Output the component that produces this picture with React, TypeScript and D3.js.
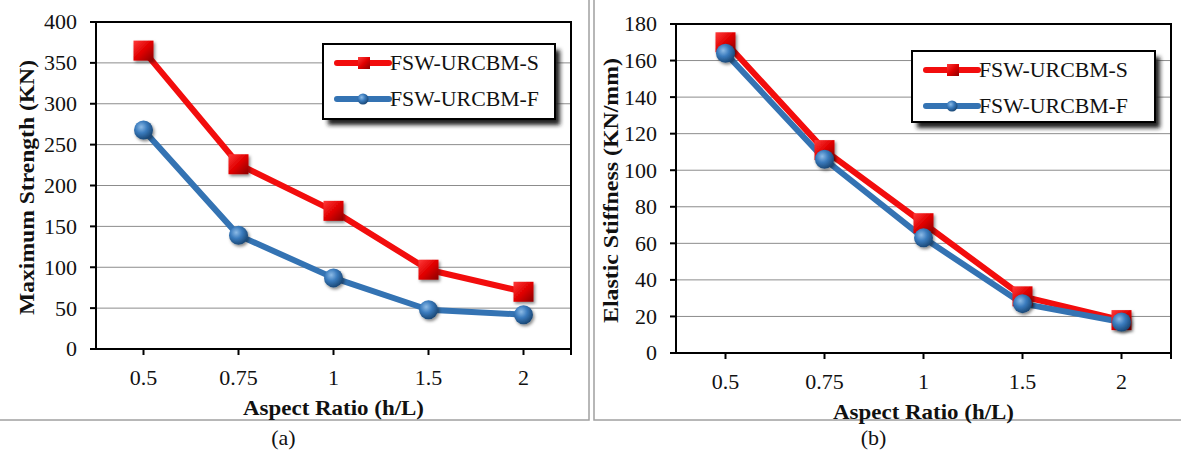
import React from 'react'
import * as d3 from 'd3'

// category axis shared by both panels
const aspectRatios = ['0.5', '0.75', '1', '1.5', '2']

// (a) maximum strength, KN
const strengthS = [365, 226, 169, 97, 70]
const strengthF = [268, 139, 87, 48, 42]
const strengthTicks = [0, 50, 100, 150, 200, 250, 300, 350, 400]

// (b) elastic stiffness, KN/mm
const stiffnessS = [170, 111, 71, 31, 18]
const stiffnessF = [164, 106, 63, 27, 17]
const stiffnessTicks = [0, 20, 40, 60, 80, 100, 120, 140, 160, 180]

const seriesNames = ['FSW-URCBM-S', 'FSW-URCBM-F']

const RED = '#f20d0d'
const BLUE = '#3473b3'
const FONT = '"Liberation Serif", "Times New Roman", serif'

type PanelProps = {
  id: string
  left: number
  top: number
  right: number
  bottom: number
  ticks: number[]
  sValues: number[]
  fValues: number[]
  yTitle: string
  yTitleX: number
  yTitleLen: number
  legend: { x: number; y: number; w: number; h: number }
  caption: string
  frame: [number, number, number, number]
}

const Panel = (p: PanelProps) => {
  const x = d3.scaleBand().domain(aspectRatios).range([p.left, p.right])
  const cx = (c: string) => (x(c) as number) + x.bandwidth() / 2
  const y = d3
    .scaleLinear()
    .domain([0, d3.max(p.ticks) as number])
    .range([p.bottom, p.top])

  const line = d3
    .line<number>()
    .x((_, i) => cx(aspectRatios[i]))
    .y((d) => y(d))

  const midX = (p.left + p.right) / 2

  return (
    <g>
      {/* panel frame */}
      <rect
        x={p.frame[0]}
        y={p.frame[1]}
        width={p.frame[2]}
        height={p.frame[3]}
        fill="none"
        stroke="#a0a0a0"
        strokeWidth={1.5}
      />

      {/* gridlines */}
      {p.ticks.slice(1, -1).map((t) => (
        <line key={t} x1={p.left} x2={p.right} y1={y(t)} y2={y(t)} stroke="#8c8c8c" strokeWidth={1} />
      ))}

      {/* plot frame */}
      <rect
        x={p.left}
        y={p.top}
        width={p.right - p.left}
        height={p.bottom - p.top}
        fill="none"
        stroke="#000"
        strokeWidth={2}
      />

      {/* y ticks + labels */}
      {p.ticks.map((t) => (
        <g key={t}>
          <line x1={p.left - 6} x2={p.left} y1={y(t)} y2={y(t)} stroke="#000" strokeWidth={2} />
          <text
            x={p.left - 19}
            y={y(t)}
            dy="0.34em"
            textAnchor="end"
            fontSize={22}
            fontFamily={FONT}
            fill="#111"
          >
            {t}
          </text>
        </g>
      ))}

      {/* x ticks + labels */}
      {aspectRatios.map((c) => (
        <g key={c}>
          <line x1={cx(c)} x2={cx(c)} y1={p.bottom} y2={p.bottom + 6} stroke="#000" strokeWidth={2} />
          <text x={cx(c)} y={p.bottom + 36} textAnchor="middle" fontSize={22} fontFamily={FONT} fill="#111">
            {c}
          </text>
        </g>
      ))}
      <line x1={p.right} x2={p.right} y1={p.bottom} y2={p.bottom + 6} stroke="#000" strokeWidth={2} />

      {/* axis titles */}
      <text
        x={midX}
        y={p.bottom + 66}
        textAnchor="middle"
        fontSize={22}
        fontWeight="bold"
        fontFamily={FONT}
        fill="#111"
        textLength={181}
        lengthAdjust="spacingAndGlyphs"
      >
        Aspect Ratio (h/L)
      </text>
      <text
        transform={`translate(${p.yTitleX},${(p.top + p.bottom) / 2 + 2}) rotate(-90)`}
        textAnchor="middle"
        fontSize={22}
        fontWeight="bold"
        fontFamily={FONT}
        fill="#111"
        textLength={p.yTitleLen}
        lengthAdjust="spacingAndGlyphs"
      >
        {p.yTitle}
      </text>

      {/* series */}
      <path d={line(p.sValues) ?? ''} fill="none" stroke={RED} strokeWidth={6} strokeLinejoin="round" />
      <path d={line(p.fValues) ?? ''} fill="none" stroke={BLUE} strokeWidth={6} strokeLinejoin="round" />

      {p.sValues.map((v, i) => (
        <rect
          key={'s' + i}
          x={cx(aspectRatios[i]) - 10}
          y={y(v) - 10}
          width={20}
          height={20}
          fill={`url(#sq-${p.id})`}
          filter={`url(#mshadow)`}
        />
      ))}
      {p.fValues.map((v, i) => (
        <circle
          key={'f' + i}
          cx={cx(aspectRatios[i])}
          cy={y(v)}
          r={9.5}
          fill="url(#ball)"
          filter={`url(#mshadow)`}
        />
      ))}

      {/* legend */}
      <rect
        x={p.legend.x + 5}
        y={p.legend.y + 6}
        width={p.legend.w}
        height={p.legend.h}
        fill="#222"
        filter="url(#lshadow)"
      />
      <rect
        x={p.legend.x}
        y={p.legend.y}
        width={p.legend.w}
        height={p.legend.h}
        fill="#fff"
        stroke="#000"
        strokeWidth={2}
      />
      {seriesNames.map((name, i) => {
        const ly = p.legend.y + (i === 0 ? 19 : 55)
        const lx = p.legend.x + 14
        return (
          <g key={name}>
            <line x1={lx} x2={lx + 52} y1={ly} y2={ly} stroke={i === 0 ? RED : BLUE} strokeWidth={6} strokeLinecap="round" />
            {i === 0 ? (
              <rect x={lx + 21} y={ly - 6} width={12} height={12} fill={`url(#sq-${p.id})`} />
            ) : (
              <circle cx={lx + 26} cy={ly} r={5.5} fill="url(#ball)" />
            )}
            <text
              x={lx + 53}
              y={ly}
              dy="0.34em"
              fontSize={20}
              fontFamily={FONT}
              fill="#111"
              textLength={149}
              lengthAdjust="spacingAndGlyphs"
            >
              {name}
            </text>
          </g>
        )
      })}

      {/* caption */}
      <text x={midX - 50} y={445} textAnchor="middle" fontSize={22} fontFamily={FONT} fill="#111">
        {p.caption}
      </text>
    </g>
  )
}

export default function App() {
  return (
    <svg
      width={1181}
      height={451}
      style={{ position: 'absolute', left: 0, top: 0, background: '#fff' }}
    >
      <defs>
        <linearGradient id="sq-a" x1="0" y1="0" x2="1" y2="1">
          <stop offset="0" stopColor="#ff3b3b" />
          <stop offset="0.5" stopColor="#e00000" />
          <stop offset="1" stopColor="#8a0000" />
        </linearGradient>
        <linearGradient id="sq-b" x1="0" y1="0" x2="1" y2="1">
          <stop offset="0" stopColor="#ff3b3b" />
          <stop offset="0.5" stopColor="#e00000" />
          <stop offset="1" stopColor="#8a0000" />
        </linearGradient>
        <radialGradient id="ball" cx="0.38" cy="0.35" r="0.7">
          <stop offset="0" stopColor="#8dbbe6" />
          <stop offset="0.45" stopColor="#3a7bbd" />
          <stop offset="1" stopColor="#17426e" />
        </radialGradient>
        <filter id="mshadow" x="-50%" y="-50%" width="200%" height="200%">
          <feDropShadow dx="1.5" dy="2" stdDeviation="1.8" floodColor="#000" floodOpacity="0.45" />
        </filter>
        <filter id="lshadow" x="-10%" y="-20%" width="120%" height="140%">
          <feGaussianBlur stdDeviation="2" />
        </filter>
      </defs>

      <Panel
        id="a"
        left={96}
        top={22}
        right={571}
        bottom={349}
        ticks={strengthTicks}
        sValues={strengthS}
        fValues={strengthF}
        yTitle="Maximum  Strength (KN)"
        yTitleX={34}
        yTitleLen={255}
        legend={{ x: 323, y: 44, w: 232, h: 75 }}
        caption="(a)"
        frame={[-2, -2, 591, 422]}
      />
      <Panel
        id="b"
        left={676}
        top={24}
        right={1171}
        bottom={353}
        ticks={stiffnessTicks}
        sValues={stiffnessS}
        fValues={stiffnessF}
        yTitle="Elastic Stiffness (KN/mm)"
        yTitleX={618}
        yTitleLen={265}
        legend={{ x: 912, y: 51, w: 243, h: 71 }}
        caption="(b)"
        frame={[594, -2, 590, 422]}
      />
    </svg>
  )
}
